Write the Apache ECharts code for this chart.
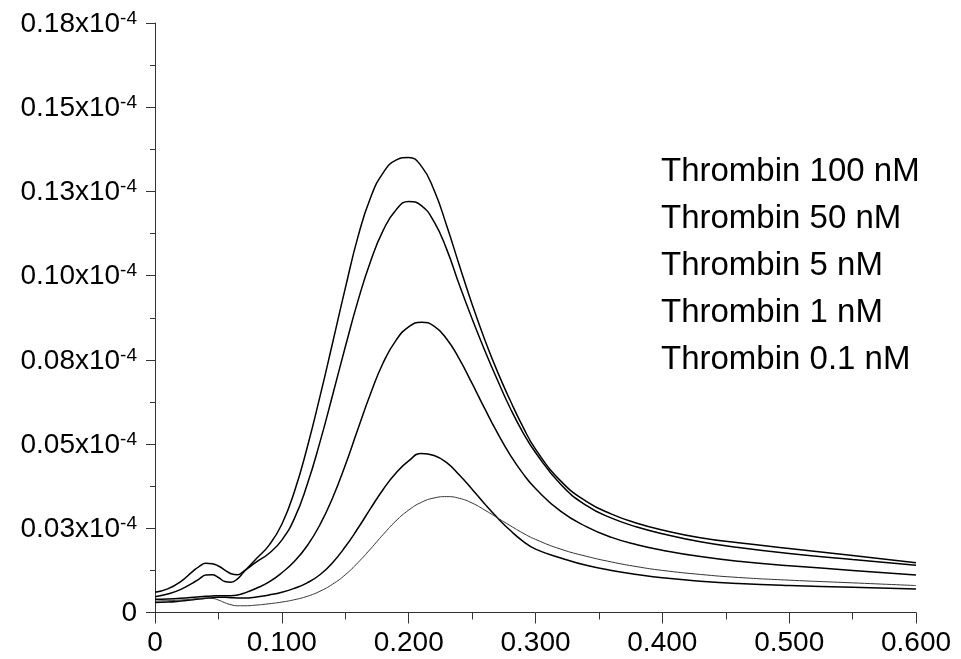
<!DOCTYPE html>
<html>
<head>
<meta charset="utf-8">
<script src="https://cdn.jsdelivr.net/npm/echarts@6/dist/echarts.min.js"></script>
<style>
  html, body { margin: 0; padding: 0; background: #fff; }
  #chart { width: 961px; height: 659px; }
</style>
</head>
<body>
<div id="chart"></div>
<script>
// Sampling positions along the x axis
const xValues = [0, 0.01, 0.02, 0.03, 0.035, 0.04, 0.045, 0.05, 0.055, 0.06, 0.065, 0.07, 0.08, 0.09,
  0.10, 0.11, 0.12, 0.13, 0.14, 0.15, 0.16, 0.17, 0.18, 0.19,
  0.20, 0.21, 0.22, 0.23, 0.24, 0.25, 0.26, 0.27, 0.28, 0.29,
  0.30, 0.32, 0.34, 0.36, 0.38, 0.40, 0.43, 0.46, 0.50, 0.55, 0.60];

// Signal values, in units of 1e-4
const thrombin100 = [0.0047, 0.0055, 0.0068, 0.0088, 0.0100, 0.0111, 0.0112, 0.0104, 0.0092, 0.0090, 0.0100, 0.0120, 0.0160, 0.0200,
  0.0262, 0.0360, 0.0490, 0.0640, 0.0800, 0.0962, 0.1115, 0.1232, 0.1306, 0.1343,
  0.1351, 0.1325, 0.1254, 0.1148, 0.1030, 0.0915, 0.0810, 0.0715, 0.0630, 0.0552,
  0.0485, 0.0390, 0.0330, 0.0292, 0.0265, 0.0245, 0.0222, 0.0207, 0.0190, 0.0169, 0.0148];

const thrombin50 = [0.0060, 0.0070, 0.0091, 0.0123, 0.0137, 0.0146, 0.0145, 0.0138, 0.0126, 0.0115, 0.0112, 0.0123, 0.0150, 0.0176,
  0.0215, 0.0280, 0.0380, 0.0505, 0.0645, 0.0788, 0.0925, 0.1043, 0.1135, 0.1195,
  0.1220, 0.1208, 0.1160, 0.1078, 0.0972, 0.0872, 0.0778, 0.0690, 0.0607, 0.0535,
  0.0475, 0.0380, 0.0318, 0.0280, 0.0254, 0.0234, 0.0210, 0.0193, 0.0175, 0.0157, 0.0140];

const thrombin5 = [0.0039, 0.0040, 0.0042, 0.0045, 0.0047, 0.0048, 0.0049, 0.0050, 0.0050, 0.0050, 0.0052, 0.0057, 0.0072, 0.0091,
  0.0118, 0.0152, 0.0198, 0.0260, 0.0340, 0.0437, 0.0545, 0.0650, 0.0742, 0.0808,
  0.0848, 0.0862, 0.0850, 0.0812, 0.0752, 0.0680, 0.0605, 0.0533, 0.0468, 0.0413,
  0.0368, 0.0300, 0.0255, 0.0223, 0.0201, 0.0185, 0.0166, 0.0152, 0.0139, 0.0125, 0.0111];

const thrombin1 = [0.0030, 0.0031, 0.0034, 0.0038, 0.0040, 0.0042, 0.0044, 0.0045, 0.0045, 0.0044, 0.0043, 0.0043, 0.0046, 0.0052,
  0.0060, 0.0072, 0.0088, 0.0112, 0.0148, 0.0195, 0.0250, 0.0309, 0.0366, 0.0414,
  0.0450, 0.0472, 0.0466, 0.0445, 0.0408, 0.0366, 0.0322, 0.0281, 0.0244, 0.0212,
  0.0188, 0.0162, 0.0140, 0.0125, 0.0113, 0.0103, 0.0093, 0.0086, 0.0080, 0.0075, 0.0070];

const thrombin01 = [0.0034, 0.0035, 0.0037, 0.0040, 0.0042, 0.0043, 0.0042, 0.0037, 0.0029, 0.0023, 0.0020, 0.0020, 0.0022, 0.0026,
  0.0031, 0.0038, 0.0048, 0.0063, 0.0084, 0.0112, 0.0148, 0.0189, 0.0232, 0.0272,
  0.0304, 0.0327, 0.0340, 0.0344, 0.0339, 0.0325, 0.0304, 0.0281, 0.0258, 0.0236,
  0.0217, 0.0188, 0.0167, 0.0150, 0.0136, 0.0125, 0.0113, 0.0104, 0.0096, 0.0088, 0.0080];

const seriesNames = ['Thrombin 100 nM', 'Thrombin 50 nM', 'Thrombin 5 nM', 'Thrombin 1 nM', 'Thrombin 0.1 nM'];
const seriesValues = [thrombin100, thrombin50, thrombin5, thrombin1, thrombin01];

// Axis ranges and tick steps
const xMin = 0, xMax = 0.6, xStep = 0.1;
const yMin = 0, yMax = 0.175, yStep = 0.025;
const yExponent = '-4';

const FONT = '"Liberation Sans", Arial, sans-serif';
const AXIS_COLOR = '#333';

const chart = echarts.init(document.getElementById('chart'), null, { renderer: 'canvas' });

const series = seriesNames.map((name, i) => ({
  name: name,
  type: 'line',
  smooth: true,
  symbol: 'none',
  silent: true,
  lineStyle: i === 4 ? { color: '#333', width: 1 } : { color: '#000', width: 1.5 },
  itemStyle: { color: i === 4 ? '#333' : '#000' },
  data: xValues.map((x, k) => [x, seriesValues[i][k]])
}));

chart.setOption({
  animation: false,
  backgroundColor: '#fff',
  grid: { left: 155, right: 45, top: 23, bottom: 46.5, outerBoundsMode: 'none', containLabel: false },
  legend: {
    orient: 'vertical',
    left: 656,
    top: 154,
    padding: 0,
    itemWidth: 0,
    itemHeight: 0,
    itemGap: 11,
    icon: 'none',
    selectedMode: false,
    data: seriesNames,
    textStyle: { fontFamily: FONT, fontSize: 33, color: '#000', lineHeight: 36 }
  },
  xAxis: {
    type: 'value',
    min: xMin, max: xMax, interval: xStep,
    axisLine: { show: true, lineStyle: { color: AXIS_COLOR, width: 1 } },
    axisTick: { show: true, length: 11, inside: false, lineStyle: { color: AXIS_COLOR } },
    minorTick: { show: true, splitNumber: 2, length: 7, lineStyle: { color: AXIS_COLOR } },
    splitLine: { show: false },
    minorSplitLine: { show: false },
    axisLabel: {
      margin: 17,
      fontFamily: FONT, fontSize: 28, color: '#000',
      showMinLabel: true, showMaxLabel: true,
      formatter: v => (Math.abs(v) < 1e-9 ? '0' : (v + 1e-9).toFixed(3))
    }
  },
  yAxis: {
    type: 'value',
    min: yMin, max: yMax, interval: yStep,
    axisLine: { show: true, lineStyle: { color: AXIS_COLOR, width: 1 } },
    axisTick: { show: true, length: 9, inside: false, lineStyle: { color: AXIS_COLOR } },
    minorTick: { show: true, splitNumber: 2, length: 5, lineStyle: { color: AXIS_COLOR } },
    splitLine: { show: false },
    minorSplitLine: { show: false },
    axisLabel: {
      margin: 18,
      color: '#000',
      showMinLabel: true, showMaxLabel: true,
      formatter: v => (Math.abs(v) < 1e-9 ? '{m|0}' : '{m|' + (v + 1e-9).toFixed(2) + 'x10}{s|' + yExponent + '}'),
      rich: {
        m: { fontFamily: FONT, fontSize: 28, color: '#000', lineHeight: 30, verticalAlign: 'bottom' },
        s: { fontFamily: FONT, fontSize: 19, color: '#000', lineHeight: 30, verticalAlign: 'bottom', padding: [0, 0, 10, 0] }
      }
    }
  },
  series: series
});
</script>
</body>
</html>
